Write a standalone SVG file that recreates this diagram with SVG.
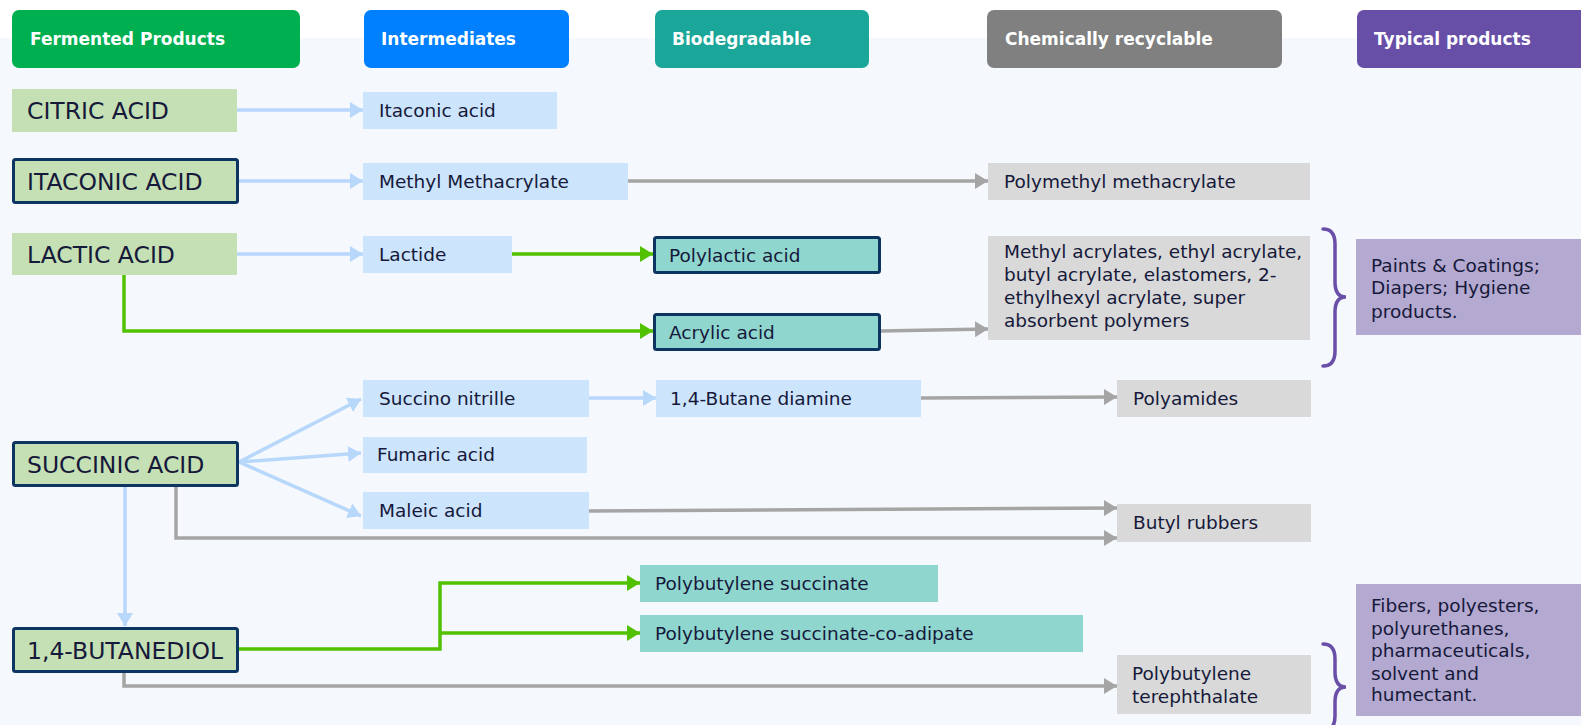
<svg xmlns="http://www.w3.org/2000/svg" width="1581" height="725" viewBox="0 0 1581 725">
<defs>
<style>
.hdr{font-family:"DejaVu Sans","Liberation Sans",sans-serif;font-weight:bold;font-size:17px;fill:#ffffff}
.t{font-family:"DejaVu Sans","Liberation Sans",sans-serif;font-size:18.5px;fill:#16193a}
.big{font-family:"DejaVu Sans","Liberation Sans",sans-serif;font-size:23.5px;fill:#16193a}
.ferm{fill:#c5e0b4}
.inter{fill:#cce4fc}
.bio{fill:#8fd6cf}
.chem{fill:#d9d9d9}
.typ{fill:#b4a9d0}
.bd{stroke:#0c3561;stroke-width:3}
.lb{fill:none;stroke:#b7d7fb;stroke-width:3.5;marker-end:url(#ab)}
.gr{fill:none;stroke:#a5a5a5;stroke-width:3.5;marker-end:url(#ag)}
.gn{fill:none;stroke:#52c100;stroke-width:3.5;marker-end:url(#an)}
.brace{fill:none;stroke:#6a4fa8;stroke-width:3.5;stroke-linecap:round}
</style>
<marker id="ab" viewBox="0 0 13 16" refX="13" refY="8" markerWidth="13" markerHeight="16" markerUnits="userSpaceOnUse" orient="auto"><path d="M0,0 L13,8 L0,16 z" fill="#b7d7fb"/></marker>
<marker id="ag" viewBox="0 0 13 16" refX="13" refY="8" markerWidth="13" markerHeight="16" markerUnits="userSpaceOnUse" orient="auto"><path d="M0,0 L13,8 L0,16 z" fill="#a5a5a5"/></marker>
<marker id="an" viewBox="0 0 13 16" refX="13" refY="8" markerWidth="13" markerHeight="16" markerUnits="userSpaceOnUse" orient="auto"><path d="M0,0 L13,8 L0,16 z" fill="#52c100"/></marker>
</defs>
<rect x="0" y="0" width="1581" height="725" fill="#ffffff"/>
<rect x="0" y="38" width="1581" height="687" fill="#f5f8fd"/>

<g id="headers">
<g id="h-fermented"><rect x="12" y="10" width="288" height="58" rx="7" fill="#00b050"/><text class="hdr" x="30" y="45">Fermented Products</text></g>
<g id="h-intermediates"><rect x="364" y="10" width="205" height="58" rx="7" fill="#0080ff"/><text class="hdr" x="381" y="45">Intermediates</text></g>
<g id="h-biodegradable"><rect x="655" y="10" width="214" height="58" rx="7" fill="#1aa698"/><text class="hdr" x="672" y="45">Biodegradable</text></g>
<g id="h-chemical"><rect x="987" y="10" width="295" height="58" rx="7" fill="#808080"/><text class="hdr" x="1005" y="45">Chemically recyclable</text></g>
<g id="h-typical"><rect x="1357" y="10" width="230" height="58" rx="7" fill="#674ea7"/><text class="hdr" x="1374" y="45">Typical products</text></g>
</g>

<g id="connectors">
<path class="lb" d="M237,110 L363,110"/>
<path class="lb" d="M239,181 L363,181"/>
<path class="lb" d="M237,254 L363,254"/>
<path class="lb" d="M239,462 L361,399"/>
<path class="lb" d="M239,462 L361,453"/>
<path class="lb" d="M239,462 L361,516"/>
<path class="lb" d="M125,486 L125,626"/>
<path class="lb" d="M589,398 L656,398"/>
<path class="gr" d="M628,181 L988,181"/>
<path class="gr" d="M881,331 L988,329"/>
<path class="gr" d="M921,398 L1117,397"/>
<path class="gr" d="M589,511 L1117,508"/>
<path class="gr" d="M176,486 L176,538 L1117,538"/>
<path class="gr" d="M124,672 L124,686 L1117,686"/>
<path class="gn" d="M512,254 L653,254"/>
<path class="gn" d="M124,275 L124,331 L653,331"/>
<path class="gn" d="M239,649 L440,649 L440,583 L640,583"/>
<path class="gn" d="M440,633 L640,633"/>
</g>

<g id="n-citric"><rect class="ferm" x="12" y="89" width="225" height="43"/><text class="big" x="27" y="119">CITRIC ACID</text></g>
<g id="n-itaconic"><rect class="ferm bd" x="13.5" y="159.5" width="224" height="43" rx="2"/><text class="big" x="27" y="190">ITACONIC ACID</text></g>
<g id="n-lactic"><rect class="ferm" x="12" y="233" width="225" height="42"/><text class="big" x="27" y="263">LACTIC ACID</text></g>
<g id="n-succinic"><rect class="ferm bd" x="13.5" y="442.5" width="224" height="43" rx="2"/><text class="big" x="27" y="473">SUCCINIC ACID</text></g>
<g id="n-butanediol"><rect class="ferm bd" x="13.5" y="628.5" width="224" height="43" rx="2"/><text class="big" x="27" y="659">1,4-BUTANEDIOL</text></g>

<g id="n-itaconic-acid"><rect class="inter" x="363" y="92" width="194" height="37"/><text class="t" x="379" y="117">Itaconic acid</text></g>
<g id="n-mma"><rect class="inter" x="363" y="163" width="265" height="37"/><text class="t" x="379" y="188">Methyl Methacrylate</text></g>
<g id="n-lactide"><rect class="inter" x="363" y="236" width="149" height="37"/><text class="t" x="379" y="261">Lactide</text></g>
<g id="n-succino"><rect class="inter" x="363" y="380" width="226" height="37"/><text class="t" x="379" y="405">Succino nitrille</text></g>
<g id="n-fumaric"><rect class="inter" x="363" y="437" width="224" height="36"/><text class="t" x="377" y="461">Fumaric acid</text></g>
<g id="n-maleic"><rect class="inter" x="363" y="492" width="226" height="37"/><text class="t" x="379" y="517">Maleic acid</text></g>
<g id="n-butane-diamine"><rect class="inter" x="656" y="380" width="265" height="37"/><text class="t" x="670" y="405">1,4-Butane diamine</text></g>

<g id="n-pla"><rect class="bio bd" x="654.5" y="237.5" width="225" height="35" rx="2"/><text class="t" x="669" y="262">Polylactic acid</text></g>
<g id="n-acrylic"><rect class="bio bd" x="654.5" y="314.5" width="225" height="35" rx="2"/><text class="t" x="669" y="339">Acrylic acid</text></g>
<g id="n-pbs"><rect class="bio" x="640" y="565" width="298" height="37"/><text class="t" x="655" y="590">Polybutylene succinate</text></g>
<g id="n-pbsa"><rect class="bio" x="640" y="615" width="443" height="37"/><text class="t" x="655" y="640">Polybutylene succinate-co-adipate</text></g>

<g id="n-pmma"><rect class="chem" x="988" y="163" width="322" height="37"/><text class="t" x="1004" y="188">Polymethyl methacrylate</text></g>
<g id="n-acrylates"><rect class="chem" x="988" y="236" width="322" height="104"/><text class="t"><tspan x="1004" y="258">Methyl acrylates, ethyl acrylate,</tspan><tspan x="1004" y="281">butyl acrylate, elastomers, 2-</tspan><tspan x="1004" y="304">ethylhexyl acrylate, super</tspan><tspan x="1004" y="327">absorbent polymers</tspan></text></g>
<g id="n-polyamides"><rect class="chem" x="1117" y="380" width="194" height="37"/><text class="t" x="1133" y="405">Polyamides</text></g>
<g id="n-butyl"><rect class="chem" x="1117" y="504" width="194" height="38"/><text class="t" x="1133" y="529">Butyl rubbers</text></g>
<g id="n-pbt"><rect class="chem" x="1117" y="655" width="194" height="59"/><text class="t"><tspan x="1132" y="680">Polybutylene</tspan><tspan x="1132" y="703">terephthalate</tspan></text></g>

<g id="n-paints"><rect class="typ" x="1356" y="239" width="225" height="96"/><text class="t"><tspan x="1371" y="272">Paints &amp; Coatings;</tspan><tspan x="1371" y="294">Diapers; Hygiene</tspan><tspan x="1371" y="318">products.</tspan></text></g>
<g id="n-fibers"><rect class="typ" x="1356" y="584" width="225" height="132"/><text class="t"><tspan x="1371" y="612">Fibers, polyesters,</tspan><tspan x="1371" y="635">polyurethanes,</tspan><tspan x="1371" y="657">pharmaceuticals,</tspan><tspan x="1371" y="680">solvent and</tspan><tspan x="1371" y="701">humectant.</tspan></text></g>

<g id="braces">
<path class="brace" d="M1323,229 Q1335,229 1335,244 L1335,282 Q1335,297 1346,297 Q1335,297 1335,312 L1335,351 Q1335,366 1323,366"/>
<path class="brace" d="M1323,644 Q1335,644 1335,659 L1335,672 Q1335,687 1346,687 Q1335,687 1335,702 L1335,716 Q1335,731 1323,731"/>
</g>
</svg>
